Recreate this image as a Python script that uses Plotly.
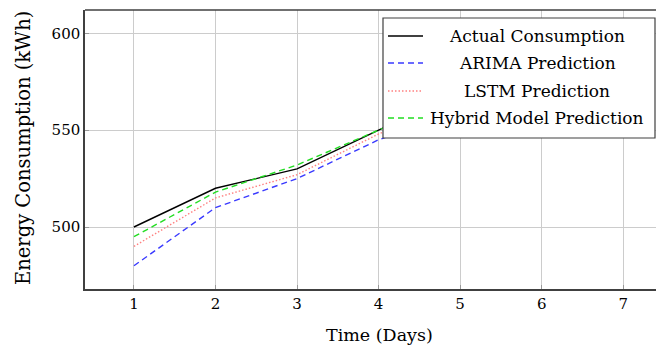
import plotly.graph_objects as go

days = [1, 2, 3, 4, 5, 6, 7]
actual = [500, 520, 530, 550, 570, 580, 600]
arima = [480, 510, 525, 545, 560, 575, 590]
lstm = [490, 515, 527, 548, 565, 578, 595]
hybrid = [495, 518, 532, 550, 568, 582, 598]
names = ["Actual Consumption", "ARIMA Prediction", "LSTM Prediction", "Hybrid Model Prediction"]
x_ticks = [1, 2, 3, 4, 5, 6, 7]
y_ticks = [500, 550, 600]

colors = ["#000000", "#3a3aff", "#ff8080", "#22dd22"]
dashes = ["solid", "6px,4px", "1.5px,2px", "6px,4px"]
series = [actual, arima, lstm, hybrid]

FONT = "DejaVu Serif"
OFF = 8  # page body margin
W, H = 664 - OFF, 352 - OFF
L, R, T = 85 - OFF, 0, 10 - OFF
B = H - (289 - OFF)
pw, ph = W - L - R, H - T - B

fig = go.Figure()
for s, n, c, d in zip(series, names, colors, dashes):
    fig.add_trace(go.Scatter(x=days, y=s, name=n, mode="lines",
                             line=dict(color=c, dash=d, width=1.4), showlegend=False))

def px2paper(px, py):
    return (px - OFF - L) / pw, (H - B - (py - OFF)) / ph

shapes = []
shapes.append(dict(type="line", xref="paper", yref="paper", x0=0, x1=1, y0=1, y1=1,
                   line=dict(color="#404040", width=1.5), layer="above"))
x0, y0 = px2paper(383, 138)
x1, y1 = px2paper(655, 18)
shapes.append(dict(type="rect", xref="paper", yref="paper", x0=x0, x1=x1, y0=y0, y1=y1,
                   fillcolor="white", line=dict(color="#404040", width=1.2), layer="above"))
annotations = []
rows = [36, 63, 91, 118]
for n, c, d, ry in zip(names, colors, dashes, rows):
    a0, b0 = px2paper(388, ry)
    a1, _ = px2paper(423, ry)
    shapes.append(dict(type="line", xref="paper", yref="paper", x0=a0, x1=a1, y0=b0, y1=b0,
                       line=dict(color=c, dash=d, width=1.4), layer="above"))
    tx, _ = px2paper(537, ry)
    annotations.append(dict(x=tx, y=b0, xref="paper", yref="paper", text=n, showarrow=False,
                            xanchor="center", yanchor="middle",
                            font=dict(family=FONT, size=17, color="black")))

ax, ay = px2paper(379, 335)
annotations.append(dict(x=ax, y=ay, xref="paper", yref="paper",
                        text="Time (Days)", showarrow=False, xanchor="center", yanchor="middle",
                        font=dict(family=FONT, size=17.5, color="black")))
bx, by = px2paper(23, 148)
annotations.append(dict(x=bx, y=by, xref="paper", yref="paper",
                        text="Energy Consumption (kWh)", showarrow=False, textangle=-90,
                        xanchor="center", yanchor="middle",
                        font=dict(family=FONT, size=19.5, color="black")))

fig.update_layout(
    width=W, height=H,
    margin=dict(l=L, r=R, t=T, b=B),
    paper_bgcolor="white", plot_bgcolor="white",
    font=dict(family=FONT, size=15, color="black"),
    shapes=shapes, annotations=annotations,
    showlegend=False,
)
fig.update_xaxes(range=[0.4, 7.5], tickvals=x_ticks, showgrid=True, gridcolor="#cccccc", gridwidth=1,
                 showline=True, linecolor="#404040", linewidth=1.5, ticks="inside", ticklen=4,
                 tickcolor="#999999", zeroline=False, tickfont=dict(family=FONT, size=15))
fig.update_yaxes(range=[468, 612], tickvals=y_ticks, showgrid=True, gridcolor="#cccccc", gridwidth=1,
                 showline=True, linecolor="#404040", linewidth=1.5, ticks="inside", ticklen=4,
                 tickcolor="#999999", zeroline=False, tickfont=dict(family=FONT, size=15))

fig.write_html("out.html")
